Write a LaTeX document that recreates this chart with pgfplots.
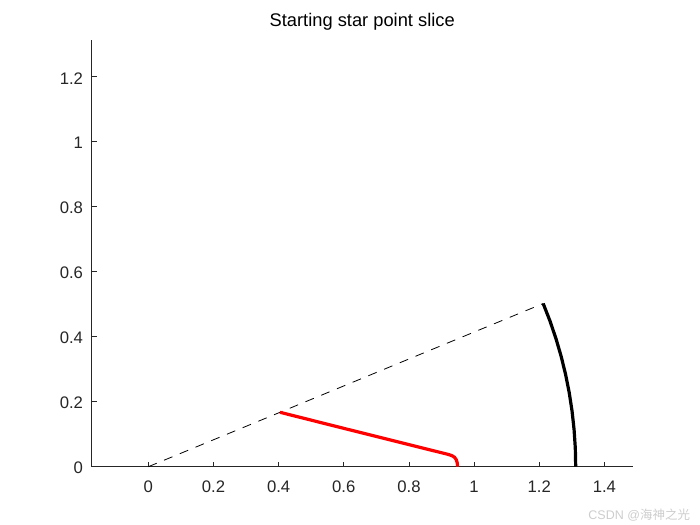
\documentclass[border=0pt]{standalone}
\usepackage{pgfplots}
\pgfplotsset{compat=1.18}
\usepackage{fontspec}
\setmainfont{Liberation Sans}
\newfontfamily\cjk{Noto Sans CJK SC}
\definecolor{mgray}{RGB}{38,38,38}
\definecolor{wm}{RGB}{205,205,205}
\begin{document}
\begin{tikzpicture}
\useasboundingbox (-91.7bp,-58.3bp) rectangle (608.3bp,466.7bp);
\begin{axis}[
  scale only axis,
  width=541bp, height=426.7bp,
  xmin=-0.174, xmax=1.487, ymin=0, ymax=1.313,
  axis lines*=left,
  axis line style={mgray, line width=0.8bp, -},
  every tick/.style={mgray, line width=0.8bp},
  tick align=inside,
  major tick length=5bp,
  xtick={0,0.2,0.4,0.6,0.8,1,1.2,1.4},
  ytick={0,0.2,0.4,0.6,0.8,1,1.2},
  /pgf/number format/assume math mode=true,
  /pgf/number format/fixed,
  tick label style={font=\fontsize{16.7bp}{20bp}\selectfont, text=mgray},
  xticklabel style={anchor=north, inner sep=0pt, yshift=-14bp},
  yticklabel style={anchor=east, inner sep=0pt, xshift=-8.5bp, yshift=-1.5bp},
  title={Starting star point slice},
  title style={at={(0.5,1)}, anchor=base, yshift=8bp, inner sep=0pt,
    font=\fontsize{18.3bp}{22bp}\selectfont, text=black},
  clip=false,
]
\addplot[black, line width=0.8bp, dash pattern=on 9bp off 8bp] coordinates {
  (0,0) (1.2121,0.5021)
};
\addplot[black, line width=3.2bp] coordinates {
  (1.2121,0.5021) (1.2329,0.4487) (1.2513,0.3945) (1.2673,0.3396)
  (1.2809,0.2840) (1.2921,0.2278) (1.3008,0.1713) (1.3070,0.1144)
  (1.3108,0.0572) (1.3120,0)
};
\addplot[red, line width=3.2bp] coordinates {
  (0.404,0.1675) (0.60,0.118) (0.80,0.068) (0.92,0.038) (0.932,0.034)
  (0.940,0.029) (0.945,0.022) (0.948,0.013) (0.949,0.005) (0.949,0)
};
\end{axis}
\node[anchor=east, inner sep=0pt, text=wm, font=\fontsize{12.5bp}{15bp}\selectfont]
  at (598.5bp,-48.3bp) {CSDN @\cjk 海神之光};
\end{tikzpicture}
\end{document}
